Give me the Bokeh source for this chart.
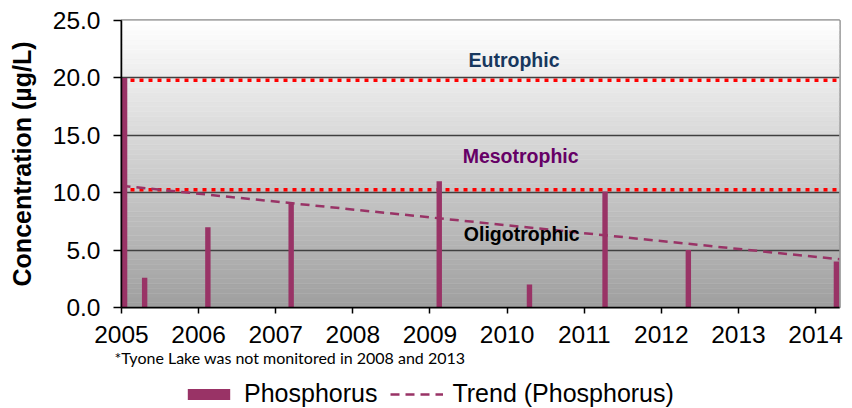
import numpy as np
from bokeh.plotting import figure
from bokeh.layouts import column
from bokeh.models import (Range1d, FixedTicker, PrintfTickFormatter, Span, Label,
                          Legend, LegendItem, Title)
from bokeh.embed import file_html
from bokeh.resources import INLINE

# ---- data ----
sample_dates = [2005.04, 2005.30, 2006.12, 2007.20, 2009.12, 2010.29, 2011.27, 2012.35, 2014.27]
phosphorus = [20.0, 2.6, 7.0, 9.1, 11.0, 2.0, 10.1, 5.0, 4.0]
trend_dates = [2005.0, 2014.31]
trend_values = [10.6, 4.2]
year_ticks = [2005, 2006, 2007, 2008, 2009, 2010, 2011, 2012, 2013, 2014]
conc_ticks = [0, 5, 10, 15, 20, 25]
eutrophic_limit = 19.8
mesotrophic_limit = 10.25

BAR = "#993366"
FONT = "Liberation Sans"
X0, X1 = 2005, 2014.31
BAR_W = 0.07
TREND_DASH = "9 6"

p = figure(width=852, height=375, output_backend="svg", toolbar_location=None,
           x_range=Range1d(X0, X1), y_range=Range1d(0, 25),
           min_border_left=121, min_border_right=13, min_border_top=20,
           min_border_bottom=68)
p.background_fill_color = "white"
p.border_fill_color = "white"

# gradient background (white -> grey)
nb = 60
edges = np.linspace(0, 25, nb + 1)
shades = np.linspace(160, 255, nb).astype(int)
cols = ["#%02x%02x%02x" % (s, s, s) for s in shades]
p.quad(left=X0, right=X1, bottom=edges[:-1], top=edges[1:], fill_color=cols,
       line_color=cols, line_width=0.5, level="image")

# grid
p.xgrid.visible = False
p.ygrid.ticker = FixedTicker(ticks=[5, 10, 15, 20])
p.ygrid.grid_line_color = "#404040"
p.ygrid.grid_line_width = 1.5

# outline
p.outline_line_color = "#8c8c8c"
p.outline_line_width = 2.5

# threshold lines
for lvl in (eutrophic_limit, mesotrophic_limit):
    p.add_layout(Span(location=lvl, dimension="width", line_color="#ff0000",
                      line_width=3.5, line_dash="4 5", level="underlay"))

bars = p.vbar(x=sample_dates, top=phosphorus, width=BAR_W, fill_color=BAR, line_color=None)
trend = p.line(trend_dates, trend_values, line_color=BAR, line_width=2.5, line_dash=TREND_DASH)

# zone labels
for txt, x, y, c in [("Eutrophic", 2010.09, 21.54, "#17375e"),
                     ("Mesotrophic", 2010.175, 13.24, "#660066"),
                     ("Oligotrophic", 2010.19, 6.36, "#000000")]:
    p.add_layout(Label(x=x, y=y, text=txt, text_align="center", text_baseline="alphabetic",
                       text_font=FONT, text_font_size="19.5px", text_font_style="bold",
                       text_color=c))

# axes
p.xaxis.ticker = FixedTicker(ticks=year_ticks)
p.yaxis.ticker = FixedTicker(ticks=conc_ticks)
p.yaxis.formatter = PrintfTickFormatter(format="%.1f")
for ax in (p.xaxis, p.yaxis):
    ax.axis_line_color = "black"
    ax.axis_line_width = 1.5
    ax.major_tick_line_color = "black"
    ax.major_tick_line_width = 1.5
    ax.major_tick_in = 0
    ax.minor_tick_line_color = None
    ax.major_label_text_font = FONT
    ax.major_label_text_font_size = "24.5px"
    ax.major_label_text_color = "black"
p.xaxis.major_tick_out = 6
p.xaxis.major_label_standoff = 12
p.yaxis.major_tick_out = 8
p.yaxis.major_label_standoff = 13
p.yaxis.axis_label = "Concentration (µg/L)"
p.yaxis.axis_label_text_font = FONT
p.yaxis.axis_label_text_font_size = "25px"
p.yaxis.axis_label_text_font_style = "bold"
p.yaxis.axis_label_text_color = "black"
p.yaxis.axis_label_standoff = 14

# footnote
p.add_layout(Title(text="*Tyone Lake was not monitored in 2008 and 2013", align="left",
                   text_font="Lato", text_font_size="16px", text_font_style="normal",
                   text_color="black", offset=-7, standoff=0), "below")

# legend row (separate strip under the chart; its renderers are hidden, only the key shows)
lg = figure(width=852, height=33, output_backend="svg", toolbar_location=None,
            x_axis_type=None, y_axis_type=None, x_range=Range1d(X0, X1), y_range=Range1d(0, 25),
            min_border=0)
lg.outline_line_color = None
lg.grid.visible = False
lg.background_fill_color = "white"
lg.border_fill_color = "white"
lbars = lg.vbar(x=sample_dates, top=phosphorus, width=BAR_W, fill_color=BAR, line_color=None,
                visible=False)
ltrend = lg.line(x=trend_dates, y=trend_values, line_color=BAR, line_width=2.5,
                 line_dash=TREND_DASH, visible=False)
legend = Legend(items=[LegendItem(label="Phosphorus", renderers=[lbars]),
                       LegendItem(label="Trend (Phosphorus)", renderers=[ltrend])],
                orientation="horizontal", location=(61, 0),
                label_text_font=FONT, label_text_font_size="25px", label_standoff=9,
                label_text_color="black", inactive_fill_alpha=0,
                glyph_width=53, glyph_height=14, spacing=13,
                border_line_color=None, background_fill_alpha=0, padding=1, margin=0)
lg.add_layout(legend)

layout = column(p, lg, spacing=0)
open("out.html", "w").write(file_html(layout, INLINE))
